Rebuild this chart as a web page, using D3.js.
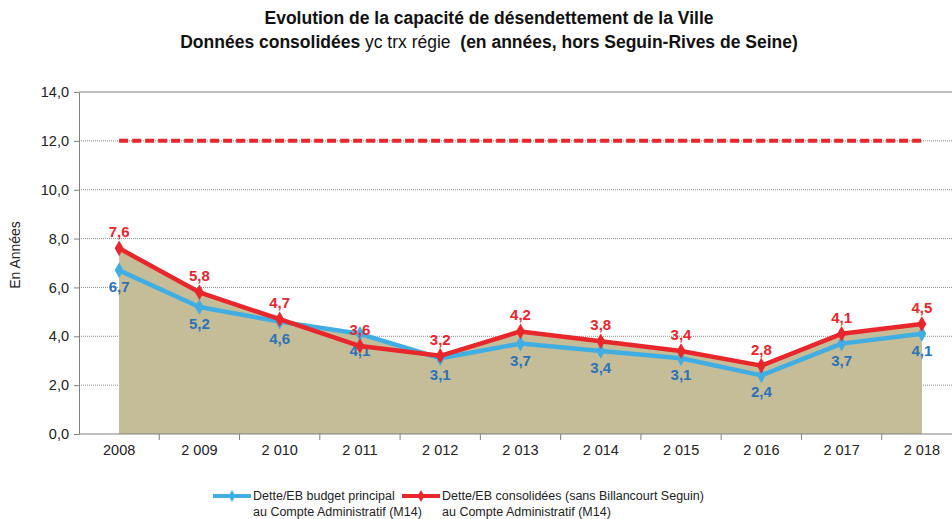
<!DOCTYPE html>
<html>
<head>
<meta charset="utf-8">
<script src="https://cdn.jsdelivr.net/npm/d3@7"></script>
<style>
  body { margin: 0; background: #fff; }
  svg { display: block; font-family: "Liberation Sans", Arial, sans-serif; }
  .grid line { stroke: #8c8c8c; stroke-dasharray: 1 1; }
  .axis path, .axis line { stroke: #808080; }
  .axis text { font-size: 14.5px; fill: #222; font-family: "Liberation Sans", Arial, sans-serif; }
</style>
</head>
<body>
<div class="container"></div>
<script>
const WIDTH = 952;
const HEIGHT = 519;
const LEFT = 79, RIGHT = 962, TOP = 92, BOTTOM = 434;

var years = ["2008", "2 009", "2 010", "2 011", "2 012", "2 013", "2 014", "2 015", "2 016", "2 017", "2 018"];
var budgetPrincipal = [6.7, 5.2, 4.6, 4.1, 3.1, 3.7, 3.4, 3.1, 2.4, 3.7, 4.1];
var consolidees = [7.6, 5.8, 4.7, 3.6, 3.2, 4.2, 3.8, 3.4, 2.8, 4.1, 4.5];
var seuil = [12, 12, 12, 12, 12, 12, 12, 12, 12, 12, 12];
var yTicks = [0, 2, 4, 6, 8, 10, 12, 14];

var fmt = (v) => v.toFixed(1).replace(".", ",");
var translate = (x, y) => `translate(${x},${y})`;

var svg = d3.select('.container').append('svg')
    .attr('width', WIDTH)
    .attr('height', HEIGHT);

// title
var title = svg.append('text')
    .attr('text-anchor', 'middle')
    .attr('font-size', 17.5)
    .attr('font-weight', 'bold')
    .attr('fill', '#111');
title.append('tspan').attr('x', 489).attr('y', 24)
    .text('Evolution de la capacité de désendettement de la Ville');
var t2 = title.append('tspan').attr('x', 489).attr('y', 48);
t2.append('tspan').text('Données consolidées ');
t2.append('tspan').attr('font-weight', 'normal').text('yc trx régie \u00a0');
t2.append('tspan').text('(en années, hors Seguin-Rives de Seine)');

var xScale = d3.scaleBand().domain(years).range([LEFT, RIGHT]);
var cx = (d) => xScale(d) + xScale.bandwidth() / 2;
var yScale = d3.scaleLinear().domain([0, 14]).range([BOTTOM, TOP]);

// grid
svg.append('g').classed('grid', true)
    .selectAll('line').data(yTicks.filter((d) => d > 0 && d < 14)).enter()
    .append('line')
    .attr('x1', LEFT).attr('x2', RIGHT)
    .attr('y1', (d) => yScale(d)).attr('y2', (d) => yScale(d));

svg.append('line')
    .attr('x1', LEFT).attr('x2', RIGHT)
    .attr('y1', yScale(14)).attr('y2', yScale(14))
    .attr('stroke', '#808080');

// areas under both series (tan)
var area = (vals) => d3.area()
    .x((d, i) => cx(years[i]))
    .y0(yScale(0))
    .y1((d) => yScale(d))(vals);
[budgetPrincipal, consolidees].forEach(function(vals) {
    svg.append('path').attr('d', area(vals)).attr('fill', '#c5bc98');
});

// axes
svg.append('g').classed('axis', true)
    .attr('transform', translate(LEFT, 0))
    .call(d3.axisLeft(yScale).tickValues(yTicks).tickFormat(fmt).tickSize(5).tickSizeOuter(0))
    .call((g) => g.selectAll('text').attr('dx', -2));

var xAxis = svg.append('g').classed('axis', true)
    .attr('transform', translate(0, BOTTOM))
    .call(d3.axisBottom(xScale).tickSize(0).tickPadding(11));
xAxis.select('.domain').attr('d', `M${LEFT},0H${RIGHT}`);
xAxis.selectAll('.sep').data(years.slice(1)).enter()
    .append('line').classed('sep', true)
    .attr('x1', (d) => xScale(d)).attr('x2', (d) => xScale(d))
    .attr('y1', 0).attr('y2', 6);

svg.append('text')
    .attr('transform', 'translate(20,255) rotate(-90)')
    .attr('text-anchor', 'middle')
    .attr('font-size', 14)
    .attr('fill', '#222')
    .text('En Années');

// threshold line
var line = d3.line().x((d, i) => cx(years[i])).y((d) => yScale(d));
svg.append('path').attr('d', line(seuil))
    .attr('fill', 'none').attr('stroke', '#e8262b')
    .attr('stroke-width', 4).attr('stroke-dasharray', '9 4');

var diamond = d3.symbol().type(d3.symbolDiamond).size(70);
var series = [
    { vals: budgetPrincipal, stroke: '#40aee2', label: '#2a73b9', dy: 22 },
    { vals: consolidees, stroke: '#e8262b', label: '#e8262b', dy: -11 }
];
series.forEach(function(s) {
    svg.append('path').attr('d', line(s.vals))
        .attr('fill', 'none').attr('stroke', s.stroke).attr('stroke-width', 4.5)
        .attr('stroke-linejoin', 'round');
    svg.selectAll(null).data(s.vals).enter()
        .append('path')
        .attr('d', diamond)
        .attr('transform', (d, i) => translate(cx(years[i]), yScale(d)))
        .attr('fill', s.stroke);
    svg.selectAll(null).data(s.vals).enter()
        .append('text')
        .attr('x', (d, i) => cx(years[i]))
        .attr('y', (d) => yScale(d) + s.dy)
        .attr('text-anchor', 'middle')
        .attr('font-size', 15)
        .attr('font-weight', 'bold')
        .attr('fill', s.label)
        .text(fmt);
});

// legend
var legend = [
    { x: 213, color: '#40aee2', lines: ['Dette/EB budget principal', 'au Compte Administratif (M14)'] },
    { x: 402, color: '#e8262b', lines: ['Dette/EB consolidées (sans Billancourt Seguin)', 'au Compte Administratif (M14)'] }
];
legend.forEach(function(l) {
    var g = svg.append('g').attr('transform', translate(l.x, 496));
    g.append('line').attr('x1', 0).attr('x2', 38)
        .attr('stroke', l.color).attr('stroke-width', 4);
    g.append('path').attr('d', d3.symbol().type(d3.symbolDiamond).size(40))
        .attr('transform', translate(19, 0)).attr('fill', l.color);
    var t = g.append('text').attr('font-size', 12.5).attr('fill', '#222');
    l.lines.forEach((txt, i) => t.append('tspan').attr('x', 40).attr('y', 4 + i * 16).text(txt));
});
</script>
</body>
</html>
